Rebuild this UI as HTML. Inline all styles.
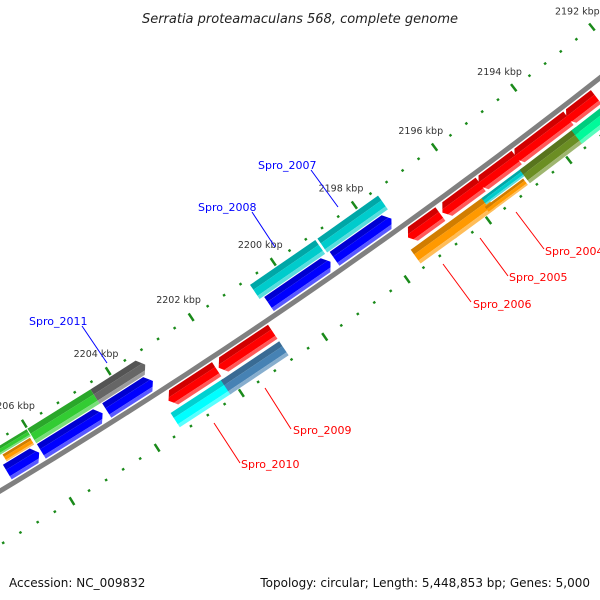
<!DOCTYPE html>
<html><head><meta charset="utf-8"><style>
html,body{margin:0;padding:0;background:#fff;}
svg{display:block;font-family:"DejaVu Sans","Liberation Sans",sans-serif;}
</style></head><body>
<svg id="chart" width="600" height="600" viewBox="0 0 600 600" xmlns="http://www.w3.org/2000/svg">
<rect width="600" height="600" fill="#fff"/>
<g id="ticks"></g>
<g id="feats"></g>
<g id="labels"></g>
<g font-size="11">
<line x1="82" y1="326" x2="107" y2="363" stroke="#0000ff" stroke-width="1"/>
<text x="29" y="325" fill="#0000ff">Spro_2011</text>
<line x1="252" y1="212" x2="275" y2="247" stroke="#0000ff" stroke-width="1"/>
<text x="198" y="211" fill="#0000ff">Spro_2008</text>
<line x1="311" y1="170" x2="338" y2="207" stroke="#0000ff" stroke-width="1"/>
<text x="258" y="169" fill="#0000ff">Spro_2007</text>
<line x1="544" y1="249" x2="516" y2="212" stroke="#ff0000" stroke-width="1"/>
<text x="545" y="255" fill="#ff0000">Spro_2004</text>
<line x1="508" y1="276" x2="480" y2="238" stroke="#ff0000" stroke-width="1"/>
<text x="509" y="281" fill="#ff0000">Spro_2005</text>
<line x1="471" y1="302" x2="443" y2="264" stroke="#ff0000" stroke-width="1"/>
<text x="473" y="308" fill="#ff0000">Spro_2006</text>
<line x1="291" y1="429" x2="265" y2="388" stroke="#ff0000" stroke-width="1"/>
<text x="293" y="434" fill="#ff0000">Spro_2009</text>
<line x1="240" y1="463" x2="214" y2="423" stroke="#ff0000" stroke-width="1"/>
<text x="241" y="468" fill="#ff0000">Spro_2010</text>
</g>
<text x="300" y="23" text-anchor="middle" font-size="13" font-style="italic" fill="#222">Serratia proteamaculans 568, complete genome</text>
<text x="9" y="587" font-size="12" fill="#111">Accession: NC_009832</text>
<text x="590" y="587" text-anchor="end" font-size="12" fill="#111">Topology: circular; Length: 5,448,853 bp; Genes: 5,000</text>
</svg>
<script>
// feature data (kbp)
const featStart = [2206.05, 2204.55, 2203.35, 2199.05, 2197.55, 2203.3, 2204.5, 2206.02, 2206.05, 2199.05, 2197.5, 2202.15, 2200.8, 2196.7, 2195.7, 2194.8, 2193.5, 2192.8, 2202.15, 2200.8, 2196.7, 2195.75, 2194.95, 2194.8, 2193.5, 2192.75, 2191.5];
const featEnd   = [2206.8, 2206.0, 2204.45, 2200.55, 2198.95, 2204.5, 2206.0, 2207.5, 2206.7, 2200.65, 2199.0, 2203.3, 2202.1, 2197.5, 2196.65, 2195.75, 2194.85, 2193.55, 2203.4, 2202.2, 2197.6, 2196.75, 2195.9, 2195.85, 2194.9, 2193.6, 2192.8];
const featColor = ["#0000ff","#0000ff","#0000ff","#0000ff","#0000ff","#666666","#33cc33","#33cc33","#ff9900","#00cccc","#00cccc","#ff0000","#ff0000","#ff0000","#ff0000","#ff0000","#ff0000","#ff0000","#00ffff","#4682b4","#ff9900","#ff9900","#ff9900","#00cccc","#6b8e23","#00fa9a","#6b8e23"];
// slot: 0 inner2, 1 inner1, 2 outer1, 3 outer2 ; sub: 0 full, 1 outer-upper half, 2 lower half
const featSlot  = [1,1,1,1,1,0,0,0,0,0,0,2,2,2,2,2,2,2,3,3,3,3,3,3,3,3,3];
const featSub   = [0,0,0,0,0,0,0,1,2,0,0,0,0,0,0,0,0,0,0,0,0,0,2,1,0,0,0];
// arrow: -1 points toward lower kbp, +1 toward higher kbp, 0 none
const featArrow = [-1,-1,-1,-1,-1,-1,0,0,0,0,0,1,1,1,1,1,1,1,0,0,0,0,0,0,0,0,0];
const majorTicks = [2192,2194,2196,2198,2200,2202,2204,2206];
const tickLabels = ["2192 kbp","2194 kbp","2196 kbp","2198 kbp","2200 kbp","2202 kbp","2204 kbp","2206 kbp"];
const minorStep = 0.4;

const CX=-3077, CY=-4619;
const NS="http://www.w3.org/2000/svg";
function ang(p){return (57.45+(p-2204)*0.479)*Math.PI/180;}
function pt(r,a){return [CX+r*Math.cos(a), CY+r*Math.sin(a)];}
function mk(tag,attrs,parent){const e=document.createElementNS(NS,tag);for(const k in attrs)e.setAttribute(k,attrs[k]);parent.appendChild(e);return e;}
const slotR=[[5926,5943],[5944,5961],[5969,5986],[5989,6006]];
function shade(hex,f){let n=parseInt(hex.slice(1),16);let r=n>>16,g=(n>>8)&255,b=n&255;
 if(f>0){r=r+(255-r)*f;g=g+(255-g)*f;b=b+(255-b)*f;}else{r=r*(1+f);g=g*(1+f);b=b*(1+f);}
 return "rgb("+Math.round(r)+","+Math.round(g)+","+Math.round(b)+")";}

const tg=document.getElementById('ticks');
// backbone
(function(){
 const a1=ang(2191), a2=ang(2209); let d="";
 for(let i=0;i<=40;i++){const a=a1+(a2-a1)*i/40;const q=pt(5965,a);d+=(i?"L":"M")+q[0].toFixed(1)+","+q[1].toFixed(1);}
 const bb=mk('path',{d:d,stroke:"#808080","stroke-width":5,fill:"none"},tg);
 
 
})();
// ticks
[5920,6011].forEach(function(rr){
 for(let p=2190.8;p<=2208.01;p+=minorStep){
  const pr=Math.round(p*10)/10;
  const isMajor=majorTicks.indexOf(pr)>=0;
  const a=ang(pr);const h=isMajor?4.5:1.2;
  const q1=pt(rr-h,a),q2=pt(rr+h,a);
  const t=mk('line',{x1:q1[0],y1:q1[1],x2:q2[0],y2:q2[1],stroke:"#1a8a1a","stroke-width":2.5},tg);
  
  
 }
});
const lg=document.getElementById('labels');
majorTicks.forEach(function(p,i){
 const q=pt(5890,ang(p));
 const t=mk('text',{x:q[0]+4,y:q[1]+11,"text-anchor":"middle","font-size":"9.5",fill:"#333"},lg);
 t.textContent=tickLabels[i];
 
 
});
// features
const fg=document.getElementById('feats');
function poly(pts,fill,parent){return mk('polygon',{points:pts.map(q=>q[0].toFixed(1)+","+q[1].toFixed(1)).join(" "),fill:fill},parent);}
featStart.forEach(function(s,i){
 const e=featEnd[i];
 let r1=slotR[featSlot[i]][0], r2=slotR[featSlot[i]][1];
 const mid=(r1+r2)/2;
 if(featSub[i]===1) r2=Math.floor(mid); else if(featSub[i]===2) r1=Math.ceil(mid);
 const g=mk('g',{},fg);
 
 
 let aS=ang(s), aE=ang(e);
 const dA=6/5965;
 const col=featColor[i];
 const bands=[[r1,r1+(r2-r1)*0.35,shade(col,-0.18)],[r1+(r2-r1)*0.35,r2-(r2-r1)*0.22,col],[r2-(r2-r1)*0.22,r2,shade(col,0.35)]];
 bands.forEach(function(b){
  const ra=b[0], rb=b[1], rm=(r1+r2)/2;
  let pts;
  if(featArrow[i]===-1){
   // tip at aS
   const tipR=(a)=>aS+dA*Math.abs(a-rm)/((r2-r1)/2);
   pts=[pt(ra,tipR(ra)),pt(ra,aE),pt(rb,aE),pt(rb,tipR(rb))];
   if(ra<rm && rb>rm) pts.push(pt(rm,aS));
  } else if(featArrow[i]===1){
   const tipR=(a)=>aE-dA*Math.abs(a-rm)/((r2-r1)/2);
   pts=[pt(ra,aS),pt(ra,tipR(ra))];
   if(ra<rm && rb>rm) pts.push(pt(rm,aE));
   pts.push(pt(rb,tipR(rb)),pt(rb,aS));
  } else {
   pts=[pt(ra,aS),pt(ra,aE),pt(rb,aE),pt(rb,aS)];
  }
  poly(pts,b[2],g);
 });
});
</script>
</body></html>
